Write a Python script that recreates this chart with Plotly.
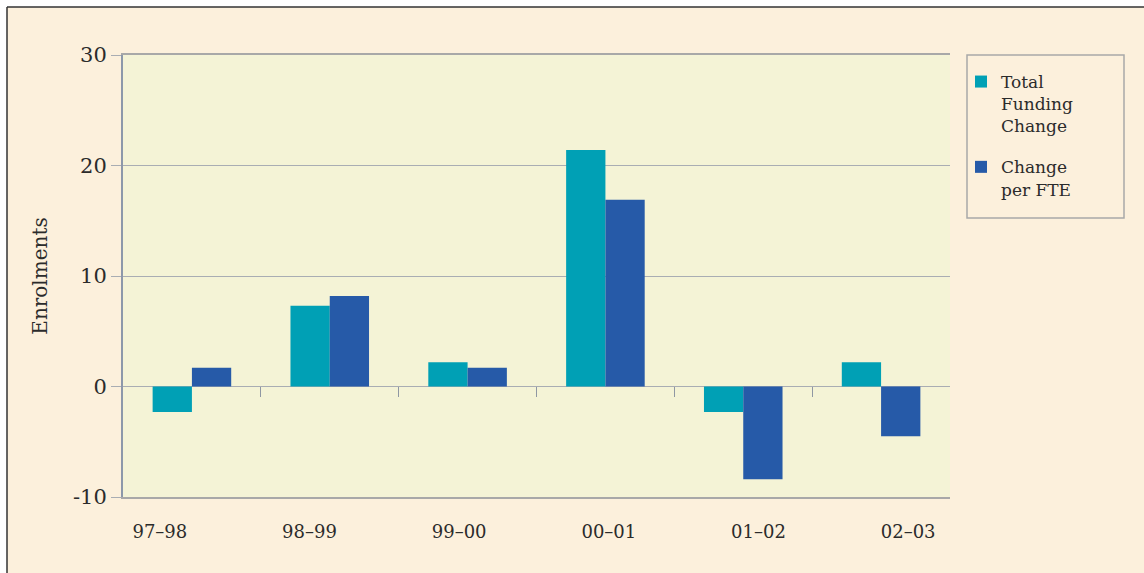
import plotly.graph_objects as go

categories = ["97–98", "98–99", "99–00", "00–01", "01–02", "02–03"]
total_funding_change = [-2.3, 7.3, 2.2, 21.4, -2.3, 2.2]
change_per_fte = [1.7, 8.2, 1.7, 16.9, -8.4, -4.5]
y_tickvals = [-10, 0, 10, 20, 30]
y_ticktext = ["-10", "0", "10", "20", "30"]

W, H = 1144, 573
ML, MR, MT, MB = 80, 155, 55, 76
PW = W - ML - MR
PH = H - MT - MB

def px_x(p):
    return (p - ML) / PW

def px_y(p):
    return (H - MB - p) / PH

FONT = "DejaVu Serif"
TXT = "#2b2b2b"
GRID = "#a9adb3"

n = len(categories)
boundaries = [i + 0.5 for i in range(n - 1)]

fig = go.Figure()
fig.add_trace(go.Bar(
    x=categories, y=total_funding_change, name="Total<br>Funding<br>Change",
    legendgroup="a",
    marker=dict(color="#00a0b5", line=dict(width=0)), xaxis="x", yaxis="y",
))
fig.add_trace(go.Bar(
    x=categories, y=change_per_fte, name="Change<br>per FTE",
    legendgroup="b",
    marker=dict(color="#265aa8", line=dict(width=0)), xaxis="x", yaxis="y",
))
# invisible trace carrying the category labels axis
fig.add_trace(go.Scatter(
    x=categories, y=[0] * n, mode="markers", opacity=0,
    xaxis="x2", yaxis="y2", showlegend=False, hoverinfo="skip",
))
# invisible trace for the zero-line boundary ticks axis
fig.add_trace(go.Scatter(
    x=boundaries, y=[0] * len(boundaries), mode="markers", opacity=0,
    xaxis="x3", yaxis="y", showlegend=False, hoverinfo="skip",
))

dom = [px_x(123), px_x(950)]
fig.update_layout(
    width=W, height=H,
    margin=dict(l=ML, r=MR, t=MT, b=MB),
    paper_bgcolor="white",
    plot_bgcolor="rgba(0,0,0,0)",
    barmode="group",
    bargap=0.43,
    bargroupgap=0,
    font=dict(family=FONT, color=TXT),
    xaxis=dict(
        domain=dom, type="category", range=[-0.5, n - 0.5],
        showticklabels=False, ticks="", showgrid=False,
        showline=True, linecolor="#a8a8a8", linewidth=2, mirror=True,
        zeroline=False,
    ),
    xaxis2=dict(
        domain=[px_x(85), px_x(983)], type="category", range=[-0.5, n - 0.5],
        anchor="y2", side="bottom",
        showticklabels=True, ticks="", showgrid=False, showline=False,
        tickfont=dict(size=18, family=FONT, color=TXT),
        ticklabelstandoff=22,
    ),
    yaxis2=dict(
        domain=[0, 1], anchor="x2", range=[-10, 30],
        visible=False, showgrid=False, zeroline=False,
    ),
    xaxis3=dict(
        domain=dom, type="linear", range=[-0.5, n - 0.5],
        anchor="free", position=px_y(386), overlaying="x",
        tickmode="array", tickvals=boundaries,
        showticklabels=False, ticks="outside",
        ticklen=10, tickcolor="#8f97a3", tickwidth=1,
        showgrid=False, showline=False, zeroline=False,
    ),
    yaxis=dict(
        domain=[0, 1], range=[-10, 30],
        tickvals=y_tickvals, ticktext=y_ticktext,
        ticks="outside", ticklen=10, tickcolor=GRID, tickwidth=1,
        showgrid=True, gridcolor=GRID, gridwidth=1,
        zeroline=True, zerolinecolor=GRID, zerolinewidth=1,
        showline=True, linecolor="#8c98aa", linewidth=2,
        tickfont=dict(size=21, family=FONT, color=TXT),
        title=dict(text="Enrolments", font=dict(size=20, family=FONT, color=TXT), standoff=20),
    ),
    legend=dict(
        x=px_x(961), y=px_y(64), xanchor="left", yanchor="top",
        bgcolor="rgba(0,0,0,0)", borderwidth=0,
        font=dict(size=17, family=FONT, color=TXT),
        tracegroupgap=16, itemwidth=30, valign="top",
    ),
    shapes=[
        dict(type="rect", xref="paper", yref="paper",
             x0=px_x(7), x1=px_x(1150), y0=px_y(580), y1=px_y(7),
             fillcolor="#fcf0dc", line=dict(width=0), layer="below"),
        dict(type="rect", xref="paper", yref="paper",
             x0=dom[0], x1=dom[1], y0=0, y1=1,
             fillcolor="#f4f3d6", line=dict(width=0), layer="below"),
        dict(type="line", xref="paper", yref="paper",
             x0=px_x(7), x1=px_x(1150), y0=px_y(7), y1=px_y(7),
             line=dict(color="#333333", width=1.5)),
        dict(type="line", xref="paper", yref="paper",
             x0=px_x(7), x1=px_x(7), y0=px_y(7), y1=px_y(580),
             line=dict(color="#333333", width=1.5)),
        dict(type="rect", xref="paper", yref="paper",
             x0=px_x(967), x1=px_x(1124), y0=px_y(218), y1=px_y(55),
             fillcolor="rgba(0,0,0,0)", line=dict(color="#a8a8a8", width=1.5)),
    ],
)

fig.write_html("out.html", config={"displayModeBar": False},
               post_script="document.body.style.margin='0';")
